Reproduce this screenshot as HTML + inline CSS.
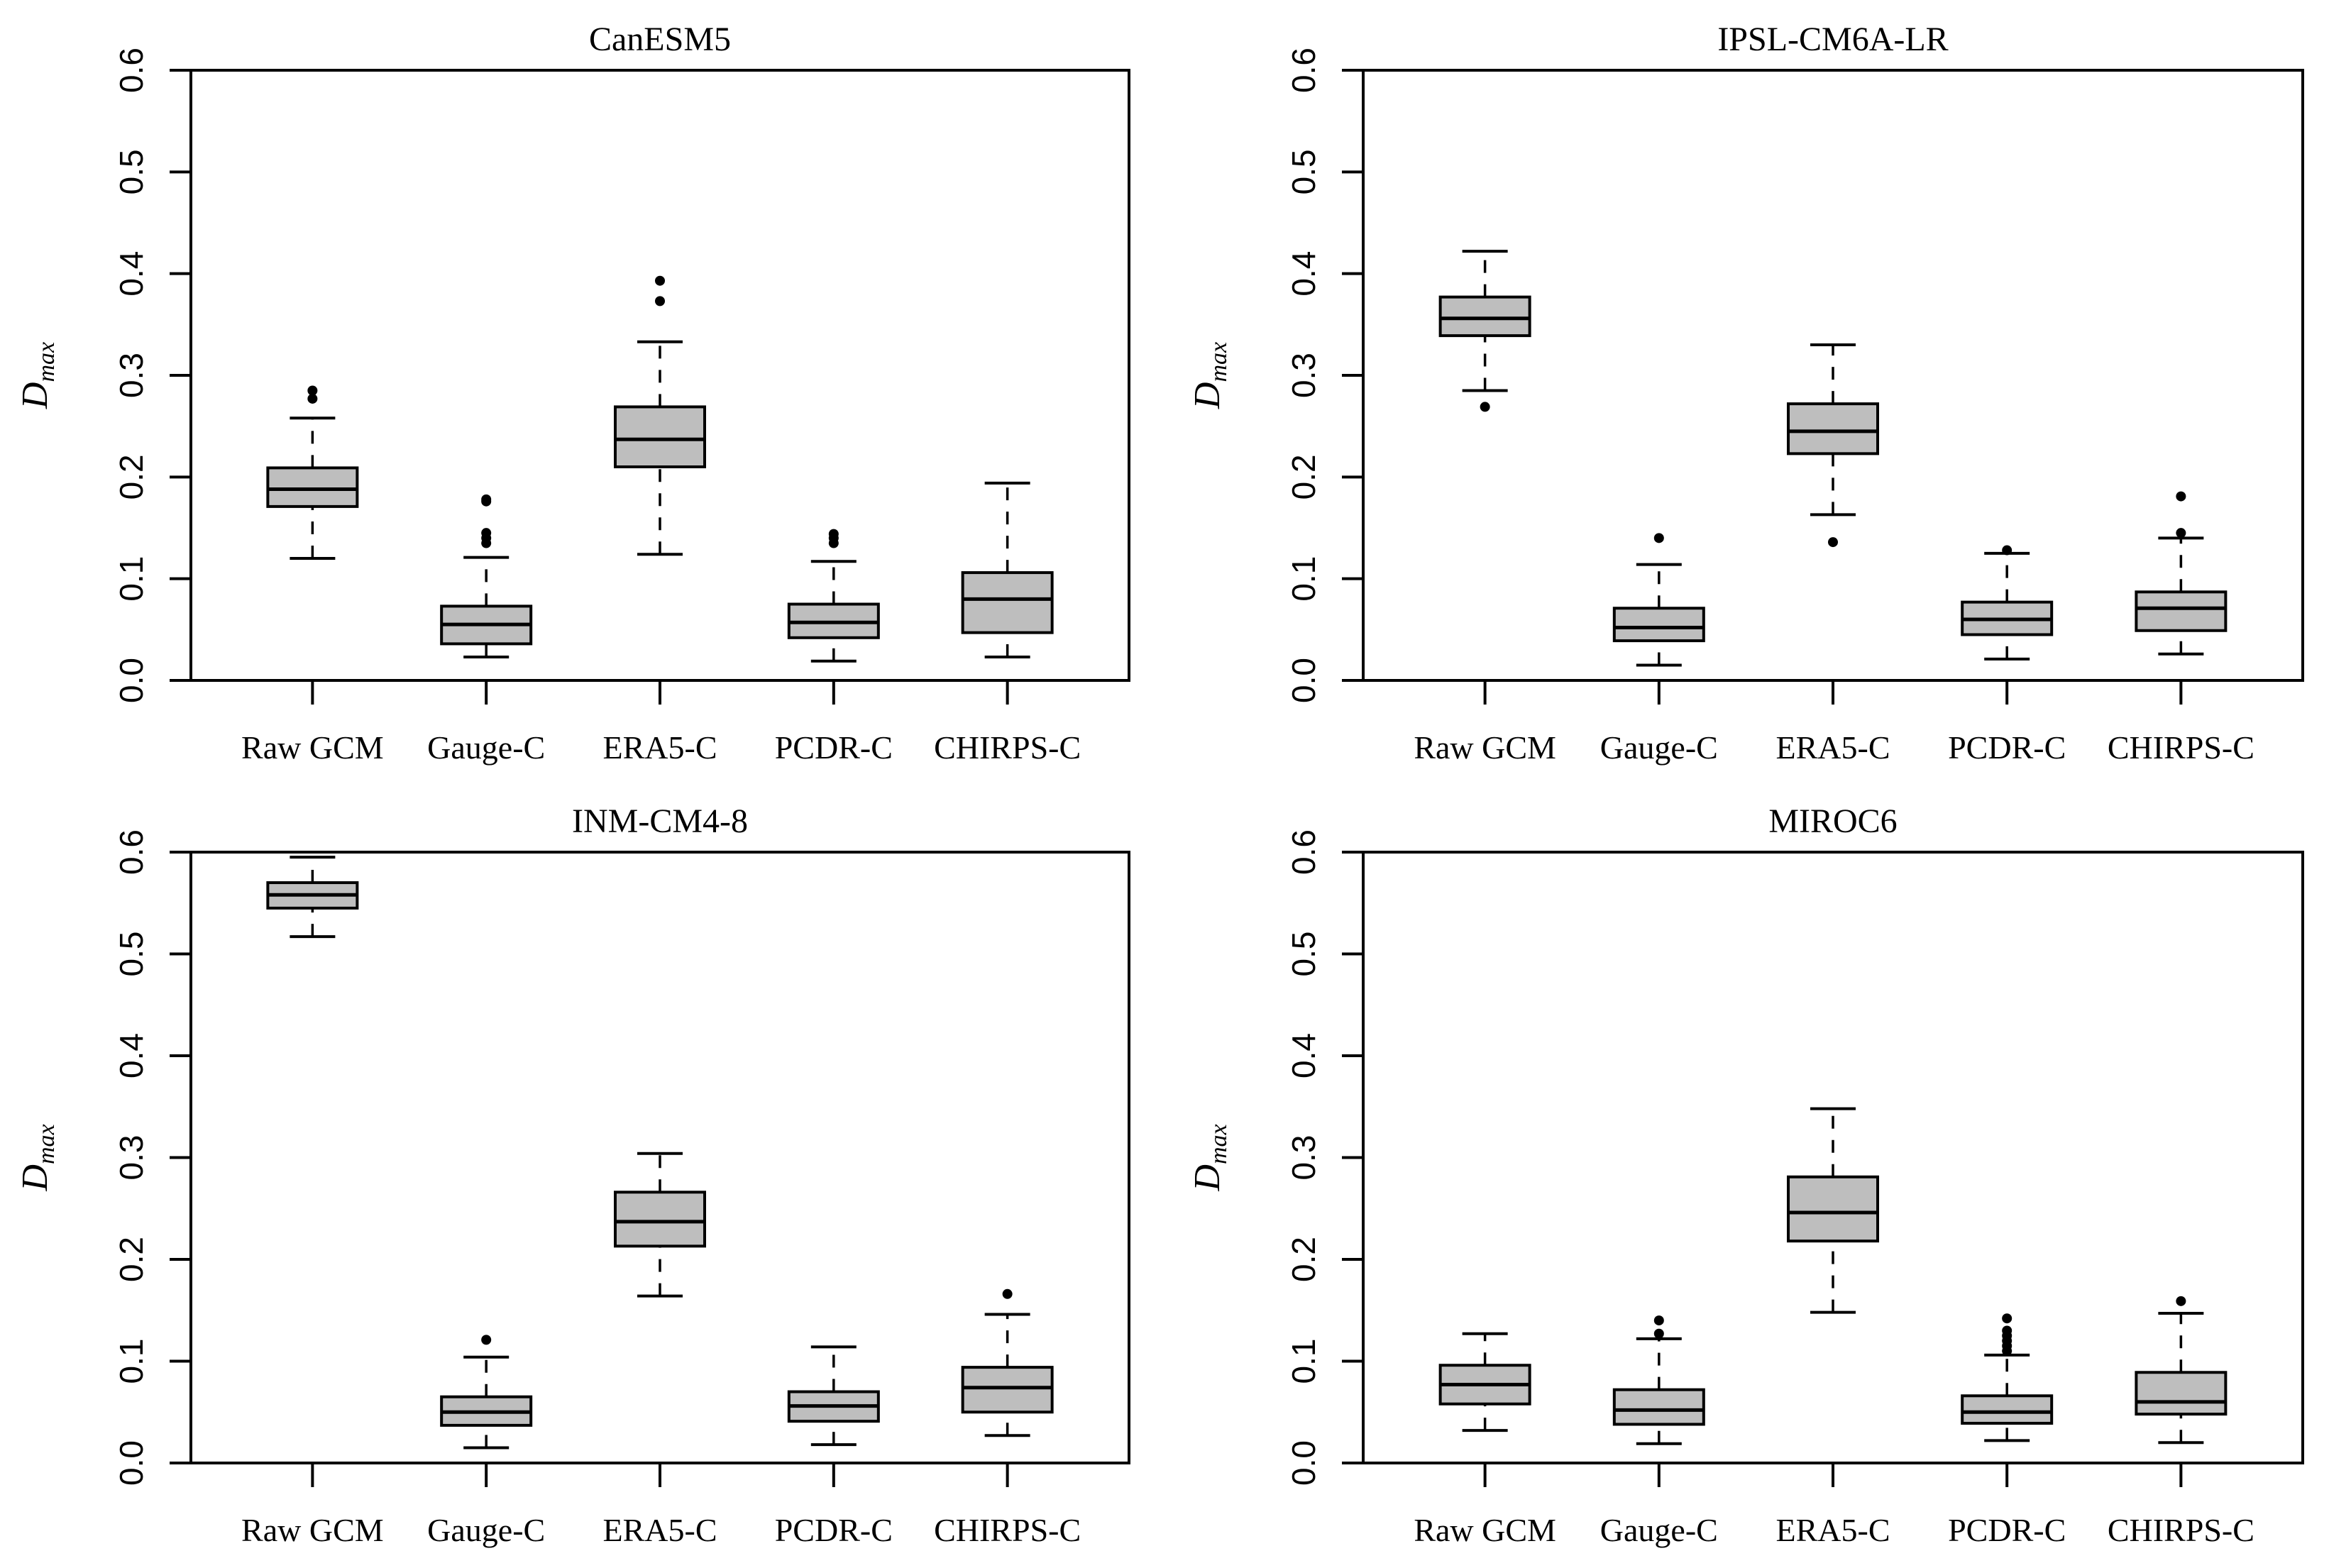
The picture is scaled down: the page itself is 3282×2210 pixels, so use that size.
<!DOCTYPE html>
<html><head><meta charset="utf-8"><style>
html,body{margin:0;padding:0;background:#fff;}
svg{display:block;}
</style></head><body>
<svg id="fig" width="3282" height="2210" viewBox="0 0 3282 2210" xmlns="http://www.w3.org/2000/svg" font-family="'Liberation Serif', serif"></svg>
<script>
const categories = ["Raw GCM","Gauge-C","ERA5-C","PCDR-C","CHIRPS-C"];
const yTicks = [0.0,0.1,0.2,0.3,0.4,0.5,0.6];
const yTickLabels = ["0.0","0.1","0.2","0.3","0.4","0.5","0.6"];
const panelTitles = ["CanESM5","IPSL-CM6A-LR","INM-CM4-8","MIROC6"];
// [low whisker, Q1, median, Q3, high whisker] per category
const canesm5Stats = [[0.120,0.171,0.188,0.209,0.258],[0.023,0.036,0.055,0.073,0.121],[0.124,0.210,0.237,0.269,0.333],[0.019,0.042,0.057,0.075,0.117],[0.023,0.047,0.080,0.106,0.194]];
const canesm5Out = [[0.285,0.277],[0.178,0.176,0.145,0.140,0.135],[0.393,0.373],[0.144,0.140,0.135],[]];
const ipslStats = [[0.285,0.339,0.356,0.377,0.422],[0.015,0.039,0.052,0.071,0.114],[0.163,0.223,0.245,0.272,0.330],[0.021,0.045,0.060,0.077,0.125],[0.026,0.049,0.071,0.087,0.140]];
const ipslOut = [[0.269],[0.140],[0.136],[0.128],[0.181,0.145]];
const inmStats = [[0.517,0.545,0.558,0.570,0.595],[0.015,0.037,0.050,0.065,0.104],[0.164,0.213,0.237,0.266,0.304],[0.018,0.041,0.056,0.070,0.114],[0.027,0.050,0.074,0.094,0.146]];
const inmOut = [[],[0.121],[],[],[0.166]];
const mirocStats = [[0.032,0.058,0.077,0.096,0.127],[0.019,0.038,0.052,0.072,0.122],[0.148,0.218,0.246,0.281,0.348],[0.022,0.039,0.050,0.066,0.106],[0.020,0.048,0.060,0.089,0.147]];
const mirocOut = [[],[0.140,0.127],[],[0.142,0.130,0.125,0.120,0.115,0.110],[0.159]];

const NS="http://www.w3.org/2000/svg";
const svg=document.getElementById('fig');
const SERIF="'Liberation Serif', 'Times New Roman', serif";
const SANS="'Liberation Sans', Arial, sans-serif";
function mk(tag,attrs,parent){const e=document.createElementNS(NS,tag);for(const k in attrs)e.setAttribute(k,attrs[k]);(parent||svg).appendChild(e);return e;}

const panels=[
 {x0:269,x1:1591,y0:99,y1:959,stats:canesm5Stats,out:canesm5Out,key:"canesm5"},
 {x0:1921,x1:3245,y0:99,y1:959,stats:ipslStats,out:ipslOut,key:"ipsl"},
 {x0:269,x1:1591,y0:1201,y1:2062,stats:inmStats,out:inmOut,key:"inm"},
 {x0:1921,x1:3245,y0:1201,y1:2062,stats:mirocStats,out:mirocOut,key:"miroc"}
];

panels.forEach((p,pi)=>{
  const g=mk('g',{});
  
  
  const X=i=>p.x0+(i+1-0.3)*(p.x1-p.x0)/5.4;
  const Y=v=>p.y1-(v/0.6)*(p.y1-p.y0);
  const frame=mk('rect',{x:p.x0,y:p.y0,width:p.x1-p.x0,height:p.y1-p.y0,fill:'none',stroke:'#000','stroke-width':4},g);
  
  
  const t=mk('text',{x:(p.x0+p.x1)/2,y:p.y0-28,'text-anchor':'middle','font-size':48,'font-family':SERIF},g);
  t.textContent=panelTitles[pi];
  
  
  yTicks.forEach((v,k)=>{
    const y=Y(v);
    mk('line',{x1:p.x0-30,x2:p.x0,y1:y,y2:y,stroke:'#000','stroke-width':4},g);
    const lx=p.x0-84;
    const tl=mk('text',{x:lx,y:y,'text-anchor':'middle','dominant-baseline':'central','font-size':46,'font-family':SANS,transform:`rotate(-90 ${lx} ${y})`},g);
    tl.textContent=yTickLabels[k];
    
    
  });
  const ax=p.x0-203, ay=(p.y0+p.y1)/2;
  const yl=mk('text',{x:ax,y:ay,'text-anchor':'middle','font-size':52,'font-style':'italic','font-family':SERIF,transform:`rotate(-90 ${ax} ${ay})`},g);
  yl.innerHTML='D<tspan font-size="34" dy="10">max</tspan>';
  
  
  categories.forEach((c,i)=>{
    const x=X(i);
    mk('line',{x1:x,x2:x,y1:p.y1,y2:p.y1+34,stroke:'#000','stroke-width':4},g);
    const xl=mk('text',{x:x,y:p.y1+110,'text-anchor':'middle','font-size':46,'font-family':SERIF},g);
    xl.textContent=c;
    
    
    const s=p.stats[i];
    const bg=mk('g',{},g);
    
    
    const hw=63, cw=32;
    mk('line',{x1:x,x2:x,y1:Y(s[0]),y2:Y(s[1]),stroke:'#000','stroke-width':3.5,'stroke-dasharray':'18 16'},bg);
    mk('line',{x1:x,x2:x,y1:Y(s[3]),y2:Y(s[4]),stroke:'#000','stroke-width':3.5,'stroke-dasharray':'18 16'},bg);
    mk('line',{x1:x-cw,x2:x+cw,y1:Y(s[0]),y2:Y(s[0]),stroke:'#000','stroke-width':4},bg);
    mk('line',{x1:x-cw,x2:x+cw,y1:Y(s[4]),y2:Y(s[4]),stroke:'#000','stroke-width':4},bg);
    mk('rect',{x:x-hw,y:Y(s[3]),width:2*hw,height:Y(s[1])-Y(s[3]),fill:'#bebebe',stroke:'#000','stroke-width':4},bg);
    mk('line',{x1:x-hw,x2:x+hw,y1:Y(s[2]),y2:Y(s[2]),stroke:'#000','stroke-width':5},bg);
    p.out[i].forEach(v=>{
      const o=mk('circle',{cx:x,cy:Y(v),r:7,fill:'#000'},bg);
      
      
    });
  });
});
</script>
</body></html>
